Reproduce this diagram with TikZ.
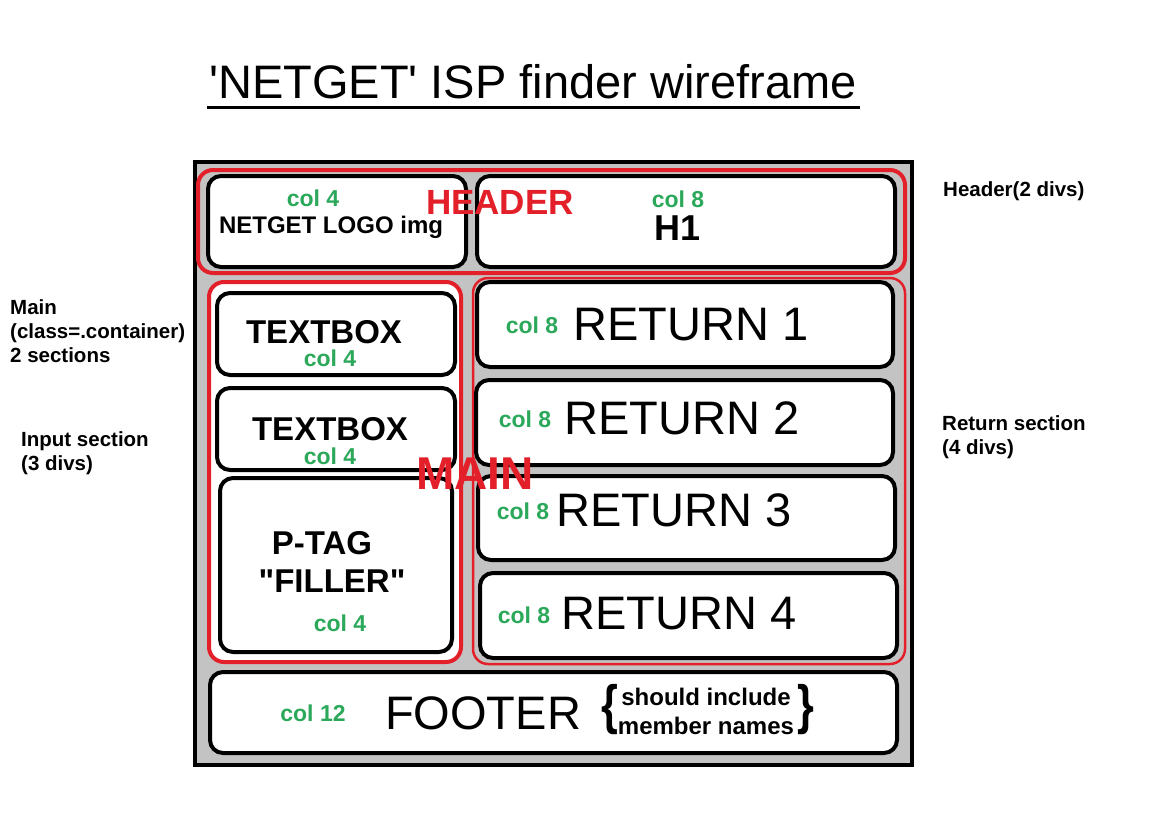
\documentclass[tikz,border=0pt]{standalone}
\usepackage{fontspec}
\setmainfont{Liberation Sans}
\definecolor{pgray}{HTML}{C3C3C3}
\definecolor{pred}{HTML}{E3202A}
\definecolor{pgreen}{HTML}{2BA85A}
\newcommand{\fs}[1]{\fontsize{#1}{#1}\selectfont}
\tikzset{
  box/.style={draw=black, line width=4pt, fill=white, rounded corners=13pt, inner sep=0pt},
  redsec/.style={draw=pred, line width=4pt, rounded corners=15pt, inner sep=0pt},
  greenlbl/.style={text=pgreen, font=\fs{23}\bfseries, inner sep=0pt},
  bigbold/.style={font=\fs{33}\bfseries, inner sep=0pt},
  ret/.style={font=\fs{47}, inner sep=0pt},
  side/.style={font=\fontsize{20.5}{24}\selectfont\bfseries, inner sep=0pt, anchor=west, align=left},
}
\begin{document}
\begin{tikzpicture}[x=1pt, y=-1pt]
\useasboundingbox[fill=white] (0,0) rectangle (1165,835);
% title
\node[font=\fs{47}, inner sep=0pt] (title) at (533,82) {\textquotesingle NETGET\textquotesingle{} ISP finder wireframe};
\draw[line width=3pt] (207,107) -- (860,107);
% outer frame
\node[draw=black, line width=4pt, fill=pgray, minimum width=717pt, minimum height=603pt, inner sep=0pt] (frame) at (553.5,463.5) {};
% header
\node[redsec, fill=pgray, minimum width=707pt, minimum height=103pt] (header) at (551.5,221.5) {};
\node[box, minimum width=258pt, minimum height=91pt] (logo) at (337,221.5) {};
\node[box, minimum width=418pt, minimum height=91pt] (h1) at (686,221.5) {};
% main sections
\node[redsec, fill=white, minimum width=252pt, minimum height=380pt] (left) at (335,472) {};
\node[redsec, line width=2.5pt, fill=pgray, minimum width=432pt, minimum height=386pt] (right) at (689,471) {};
% input boxes
\node[box, minimum width=238pt, minimum height=82pt] (tb1) at (336,334) {};
\node[box, minimum width=238pt, minimum height=82pt] (tb2) at (336,429) {};
\node[box, minimum width=232pt, minimum height=174pt] (ptag) at (336,565) {};
% return boxes
\node[box, minimum width=416pt, minimum height=85pt] (r1) at (685,324.5) {};
\node[box, minimum width=417pt, minimum height=85pt] (r2) at (684.5,422.5) {};
\node[box, minimum width=417pt, minimum height=84pt] (r3) at (686.5,518) {};
\node[box, minimum width=417pt, minimum height=85pt] (r4) at (688.5,615.5) {};
% footer
\node[box, minimum width=687pt, minimum height=81pt] (footer) at (553.5,712.5) {};
% header texts
\node[greenlbl] (c4a) at (313,198) {col 4};
\node[font=\fs{24}\bfseries, inner sep=0pt] (logot) at (331,227) {NETGET LOGO img};
\node[greenlbl] (c8a) at (678,199) {col 8};
\node[font=\fs{36}\bfseries, inner sep=0pt] (h1t) at (678,228) {H1};
\node[text=pred, font=\fs{35}\bfseries, inner sep=0pt] (headert) at (500,202) {HEADER};
% input texts
\node[bigbold] (tb1t) at (324,332) {TEXTBOX};
\node[greenlbl] (c4b) at (330,358.5) {col 4};
\node[bigbold] (tb2t) at (330,429) {TEXTBOX};
\node[greenlbl] (c4c) at (330,456) {col 4};
\node[bigbold] (ptagt) at (322,543) {P-TAG};
\node[bigbold] (fillt) at (332,581) {\textquotedbl FILLER\textquotedbl};
\node[greenlbl] (c4d) at (340,623) {col 4};
% return texts
\node[greenlbl] (c8b) at (532,325) {col 8};
\node[ret, anchor=west] (r1t) at (573,325) {RETURN 1};
\node[greenlbl] (c8c) at (525,419) {col 8};
\node[ret, anchor=west] (r2t) at (564,418) {RETURN 2};
\node[greenlbl] (c8d) at (523,511) {col 8};
\node[ret, anchor=west] (r3t) at (556,510) {RETURN 3};
\node[greenlbl] (c8e) at (524,615) {col 8};
\node[ret, anchor=west] (r4t) at (561,614) {RETURN 4};
\node[text=pred, font=\fs{46}\bfseries, inner sep=0pt] (maint) at (475,474) {MAIN};
% footer texts
\node[greenlbl] (c12) at (313,713) {col 12};
\node[font=\fs{47}, inner sep=0pt] (foott) at (483,713) {FOOTER};
\node[font=\fs{54}\bfseries, inner sep=0pt, xscale=0.8] (lb) at (610,710) {\{};
\node[font=\fontsize{24}{29}\selectfont\bfseries, inner sep=0pt, align=center] (memt) at (706,711.5) {should include\\member names};
\node[font=\fs{54}\bfseries, inner sep=0pt, xscale=0.8] (rb) at (806,710) {\}};
% side labels
\node[side] (hdrl) at (943,191) {Header(2 divs)};
\node[side] (mainl) at (10,331) {Main\\(class=.container)\\2 sections};
\node[side] (inpl) at (21,453.5) {Input section\\(3 divs)};
\node[side] (retl) at (942,437) {Return section\\(4 divs)};
\end{tikzpicture}
\end{document}
